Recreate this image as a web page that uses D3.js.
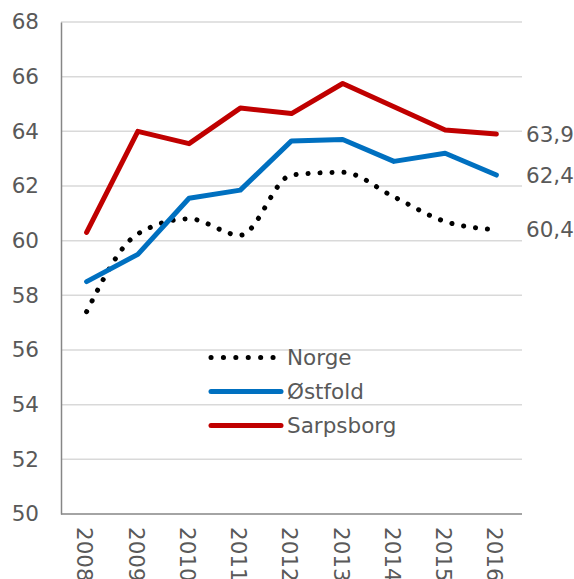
<!DOCTYPE html>
<html>
<head>
<meta charset="utf-8">
<script src="https://cdn.jsdelivr.net/npm/d3@7"></script>
<style>
  html, body { margin: 0; padding: 0; background: #fff; }
  svg text { font-family: "DejaVu Sans", Verdana, sans-serif; fill: #595959; }
</style>
</head>
<body>
<svg id="chart" width="574" height="579"></svg>
<script>
// Years on the x axis
const years = ["2008", "2009", "2010", "2011", "2012", "2013", "2014", "2015", "2016"];
// Series values per year
const norge     = [57.4, 60.25, 60.8, 60.2, 62.4, 62.5, 61.6, 60.7, 60.4];
const ostfold   = [58.5, 59.5, 61.55, 61.85, 63.65, 63.7, 62.9, 63.2, 62.4];
const sarpsborg = [60.3, 64.0, 63.55, 64.85, 64.65, 65.75, 64.9, 64.05, 63.9];
// Y axis ticks
const yTicks = [50, 52, 54, 56, 58, 60, 62, 64, 66, 68];
// End-of-line value labels
const endLabels = ["60,4", "62,4", "63,9"];

const series = [
  { name: "Norge", values: norge, color: "#000000", dotted: true, label: endLabels[0] },
  { name: "Østfold", values: ostfold, color: "#0070C0", dotted: false, label: endLabels[1] },
  { name: "Sarpsborg", values: sarpsborg, color: "#C00000", dotted: false, label: endLabels[2] }
];

const FONT = "'DejaVu Sans', Verdana, sans-serif";
const FS = 21.5;

const svg = d3.select("#chart");
const plotLeft = 61, plotRight = 522, plotTop = 22, plotBottom = 514;

const x = d3.scalePoint().domain(years).range([plotLeft, plotRight]).padding(0.5);
const y = d3.scaleLinear().domain([50, 68]).range([plotBottom, plotTop]);

// Horizontal gridlines
svg.append("g").selectAll("line").data(yTicks.filter(t => t > 50)).join("line")
  .attr("x1", plotLeft).attr("x2", plotRight)
  .attr("y1", d => y(d)).attr("y2", d => y(d))
  .attr("stroke", "#D9D9D9").attr("stroke-width", 1.5);

// Y axis
const yAxis = svg.append("g").attr("transform", `translate(${plotLeft},0)`)
  .call(d3.axisLeft(y).tickValues(yTicks).tickSize(0).tickPadding(22).tickFormat(d3.format("d")));
yAxis.select(".domain").attr("stroke", "#868686").attr("stroke-width", 1.5);
yAxis.selectAll("text").attr("font-size", FS).style("fill", "#595959")
  .attr("font-family", FONT);

// X axis with vertical year labels
const xAxis = svg.append("g").attr("transform", `translate(0,${plotBottom})`)
  .call(d3.axisBottom(x).tickSize(0).tickPadding(0));
xAxis.select(".domain").attr("d", `M${plotLeft},0H${plotRight}`)
  .attr("stroke", "#868686").attr("stroke-width", 1.5);
xAxis.selectAll("text")
  .attr("font-size", FS).style("fill", "#595959")
  .attr("font-family", FONT)
  .attr("text-anchor", "start")
  .attr("transform", "translate(0,13) rotate(90)")
  .attr("x", 0).attr("y", 0).attr("dy", "0.45em");

// Series lines
series.forEach(s => {
  const line = d3.line()
    .x((d, i) => x(years[i]))
    .y(d => y(d))
    .curve(s.dotted ? d3.curveMonotoneX : d3.curveLinear);
  const p = svg.append("path").datum(s.values)
    .attr("d", line)
    .attr("fill", "none")
    .attr("stroke", s.color)
    .attr("stroke-width", 5)
    .attr("stroke-linejoin", "round")
    .attr("stroke-linecap", "round");
  if (s.dotted) p.attr("stroke-dasharray", "0.1 11.9");

  // Value label at the last point
  svg.append("text")
    .attr("x", 526)
    .attr("y", y(s.values[s.values.length - 1]))
    .attr("dy", "0.35em")
    .attr("font-size", FS)
    .text(s.label);
});

// Legend
const legend = svg.append("g");
series.forEach((s, i) => {
  const ly = 357.5 + i * 34;
  const l = legend.append("line")
    .attr("x1", 211).attr("x2", 281)
    .attr("y1", ly).attr("y2", ly)
    .attr("stroke", s.color).attr("stroke-width", 5)
    .attr("stroke-linecap", "round");
  if (s.dotted) l.attr("stroke-dasharray", "0.1 12.3");
  legend.append("text")
    .attr("x", 287).attr("y", ly).attr("dy", "0.36em")
    .attr("font-size", FS)
    .text(s.name);
});
</script>
</body>
</html>
